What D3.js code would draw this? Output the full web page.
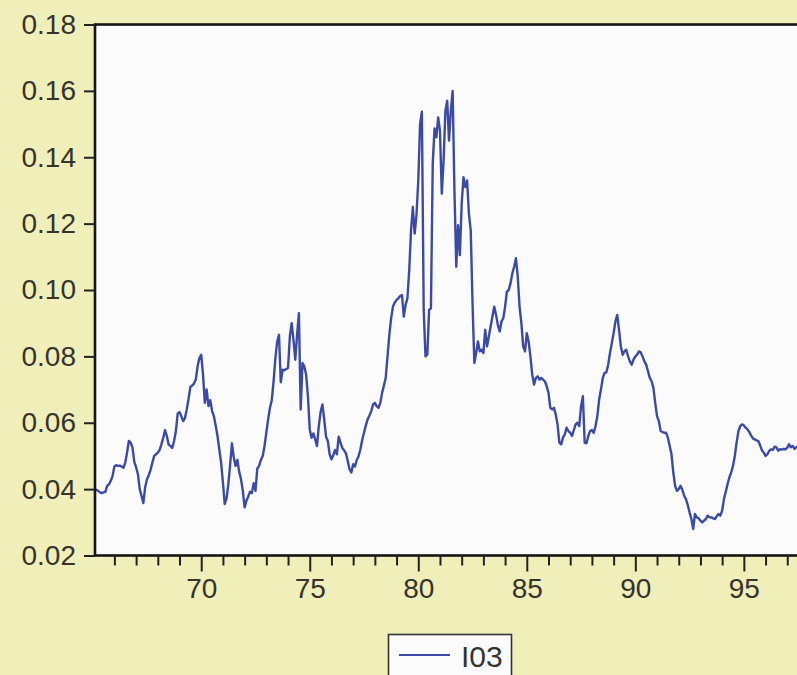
<!DOCTYPE html>
<html>
<head>
<meta charset="utf-8">
<script src="https://cdn.jsdelivr.net/npm/d3@7"></script>
<style>
  html, body { margin: 0; padding: 0; background: #f0eeb9; }
  svg { display: block; }
</style>
</head>
<body>
<svg id="chart" width="797" height="675"></svg>
<script>
// ---- Data (monthly, starting 1965:02) ----
const seriesName = "I03";
const startYear = 1965;
const startMonth = 2;
const i03 = [
  // 1965 (Feb-Dec)
  .0400, .0398, .0395, .0390, .0388, .0390, .0392, .0410, .0414, .0425, .0440,
  // 1966
  .0468, .0472, .0470, .0471, .0468, .0464, .0480, .0510, .0545, .0540, .0525, .0482,
  // 1967
  .0466, .0445, .0400, .0380, .0358, .0405, .0430, .0442, .0458, .0480, .0500, .0505,
  // 1968
  .0510, .0518, .0535, .0555, .0578, .0560, .0534, .0530, .0524, .0545, .0575, .0628,
  // 1969
  .0632, .0620, .0605, .0614, .0640, .0672, .0708, .0712, .0718, .0730, .0770, .0795,
  // 1970
  .0805, .0745, .0660, .0700, .0650, .0668, .0636, .0620, .0592, .0560, .0520, .0480,
  // 1971
  .0420, .0355, .0372, .0415, .0475, .0538, .0495, .0470, .0488, .0452, .0430, .0395,
  // 1972
  .0345, .0365, .0378, .0392, .0388, .0418, .0395, .0462, .0470, .0488, .0500, .0530,
  // 1973
  .0570, .0610, .0645, .0668, .0724, .0795, .0845, .0865, .0722, .0760, .0758, .0762,
  // 1974
  .0765, .0860, .0900, .0850, .0790, .0865, .0930, .0640, .0780, .0770, .0745, .0680,
  // 1975
  .0580, .0555, .0568, .0550, .0530, .0590, .0632, .0655, .0610, .0558, .0545, .0505,
  // 1976
  .0490, .0502, .0518, .0505, .0558, .0540, .0524, .0517, .0508, .0485, .0460, .0450,
  // 1977
  .0475, .0468, .0488, .0499, .0520, .0548, .0570, .0592, .0610, .0622, .0635, .0655,
  // 1978
  .0660, .0650, .0645, .0660, .0690, .0712, .0735, .0800, .0865, .0915, .0950, .0962,
  // 1979
  .0970, .0975, .0982, .0985, .0920, .0955, .0975, .1060, .1180, .1250, .1170, .1225,
  // 1980
  .1330, .1500, .1537, .0940, .0800, .0805, .0940, .0945, .1380, .1487, .1460, .1520,
  // 1981
  .1480, .1290, .1390, .1540, .1570, .1450, .1540, .1600, .1300, .1070, .1195, .1105,
  // 1982
  .1260, .1340, .1310, .1330, .1230, .1180, .0960, .0780, .0810, .0845, .0815, .0820,
  // 1983
  .0810, .0880, .0830, .0860, .0890, .0920, .0950, .0925, .0895, .0875, .0905, .0915,
  // 1984
  .0950, .0995, .1000, .1020, .1050, .1070, .1096, .1040, .0950, .0900, .0830, .0815,
  // 1985
  .0870, .0845, .0800, .0745, .0715, .0735, .0740, .0730, .0735, .0730, .0725, .0710,
  // 1986
  .0690, .0645, .0640, .0645, .0625, .0595, .0540, .0535, .0555, .0565, .0585, .0575,
  // 1987
  .0570, .0560, .0578, .0595, .0600, .0590, .0650, .0680, .0540, .0538, .0560, .0575,
  // 1988
  .0578, .0570, .0590, .0620, .0670, .0700, .0735, .0750, .0752, .0775, .0810, .0840,
  // 1989
  .0870, .0905, .0925, .0880, .0830, .0805, .0815, .0820, .0800, .0785, .0775, .0790,
  // 1990
  .0800, .0805, .0815, .0812, .0800, .0785, .0775, .0755, .0735, .0725, .0705, .0660,
  // 1991
  .0620, .0605, .0575, .0572, .0570, .0570, .0555, .0530, .0505, .0450, .0410, .0395,
  // 1992
  .0400, .0410, .0398, .0380, .0370, .0352, .0330, .0310, .0280, .0325, .0315, .0312,
  // 1993
  .0305, .0300, .0305, .0310, .0320, .0315, .0315, .0312, .0310, .0318, .0325, .0320,
  // 1994
  .0335, .0370, .0392, .0415, .0435, .0450, .0470, .0500, .0540, .0575, .0590, .0595,
  // 1995
  .0592, .0585, .0580, .0572, .0562, .0553, .0550, .0547, .0545, .0532, .0517, .0510,
  // 1996
  .0500, .0505, .0515, .0520, .0518, .0528, .0526, .0516, .0520, .0519, .0521, .0520,
  // 1997 (Jan-Oct)
  .0525, .0535, .0526, .0530, .0521, .0526, .0530, .0525, .0522, .0520
];
const yTicks = [0.02, 0.04, 0.06, 0.08, 0.10, 0.12, 0.14, 0.16, 0.18];
const xMajorTicks = [1970, 1975, 1980, 1985, 1990, 1995];
const xMinorTicks = d3.range(1966, 1998);

// ---- Build dated points ----
const t0 = startYear + (startMonth - 1) / 12;
const points = i03.map((v, i) => ({ t: t0 + i / 12, v }));
const tEnd = points[points.length - 1].t;

// ---- Layout ----
const plotLeft = 95, plotTop = 24.5, plotBottom = 555.5;
const pxPerYear = 21.69;
const plotRight = plotLeft + (tEnd - t0) * pxPerYear;

const svg = d3.select("#chart");
const FONT = "'Liberation Sans', Arial, Helvetica, sans-serif";
const lineColor = "#3b4aa6";
const textColor = "#34342c";

const x = d3.scaleLinear().domain([t0, tEnd]).range([plotLeft - 0.5, plotRight]);
const y = d3.scaleLinear().domain([0.02, 0.18]).range([plotBottom, plotTop]);

svg.append("rect").attr("width", 797).attr("height", 675).attr("fill", "#f0eeb9");

// plot area background
svg.append("rect")
  .attr("x", plotLeft).attr("y", plotTop)
  .attr("width", plotRight - plotLeft).attr("height", plotBottom - plotTop)
  .attr("fill", "#fbfbfc");

svg.append("clipPath").attr("id", "clip")
  .append("rect")
  .attr("x", plotLeft).attr("y", plotTop)
  .attr("width", plotRight - plotLeft).attr("height", plotBottom - plotTop);

// line
const line = d3.line().x(d => x(d.t)).y(d => y(d.v)).curve(d3.curveLinear);
svg.append("path")
  .datum(points)
  .attr("clip-path", "url(#clip)")
  .attr("fill", "none")
  .attr("stroke", lineColor)
  .attr("stroke-width", 2.4)
  .attr("stroke-linejoin", "round")
  .attr("d", line);

// frame
svg.append("rect")
  .attr("x", plotLeft).attr("y", plotTop)
  .attr("width", plotRight - plotLeft + 20).attr("height", plotBottom - plotTop)
  .attr("fill", "none").attr("stroke", "#151515").attr("stroke-width", 2.6);

// y axis
const yAxis = d3.axisLeft(y).tickValues(yTicks).tickFormat(d3.format(".2f"))
  .tickSize(11).tickPadding(8);
const gy = svg.append("g").attr("transform", `translate(${plotLeft},0)`).call(yAxis);
gy.select(".domain").remove();
gy.selectAll(".tick line").attr("stroke", "#222").attr("stroke-width", 2);
gy.selectAll(".tick text").attr("fill", textColor)
  .style("font-family", FONT).style("font-size", "28px");

// x axis minor ticks
const xMinor = d3.axisBottom(x).tickValues(xMinorTicks.filter(t => !xMajorTicks.includes(t)))
  .tickSize(10).tickFormat("");
const gxm = svg.append("g").attr("transform", `translate(0,${plotBottom})`).call(xMinor);
gxm.select(".domain").remove();
gxm.selectAll(".tick line").attr("stroke", "#222").attr("stroke-width", 2);

// x axis major ticks
const xAxis = d3.axisBottom(x).tickValues(xMajorTicks)
  .tickFormat(d => String(d % 100).padStart(2, "0"))
  .tickSize(16).tickPadding(7);
const gx = svg.append("g").attr("transform", `translate(0,${plotBottom})`).call(xAxis);
gx.select(".domain").remove();
gx.selectAll(".tick line").attr("stroke", "#222").attr("stroke-width", 2);
gx.selectAll(".tick text").attr("fill", textColor)
  .style("font-family", FONT).style("font-size", "28px");

// legend
const lg = svg.append("g");
lg.append("rect")
  .attr("x", 388.5).attr("y", 634.5).attr("width", 123).attr("height", 70)
  .attr("fill", "#fbfbfc").attr("stroke", "#333").attr("stroke-width", 1.6);
lg.append("line")
  .attr("x1", 399).attr("x2", 450).attr("y1", 655).attr("y2", 655)
  .attr("stroke", lineColor).attr("stroke-width", 2.2);
lg.append("text")
  .attr("x", 461).attr("y", 667)
  .attr("fill", textColor)
  .style("font-family", FONT).style("font-size", "30px")
  .text(seriesName);
</script>
</body>
</html>
